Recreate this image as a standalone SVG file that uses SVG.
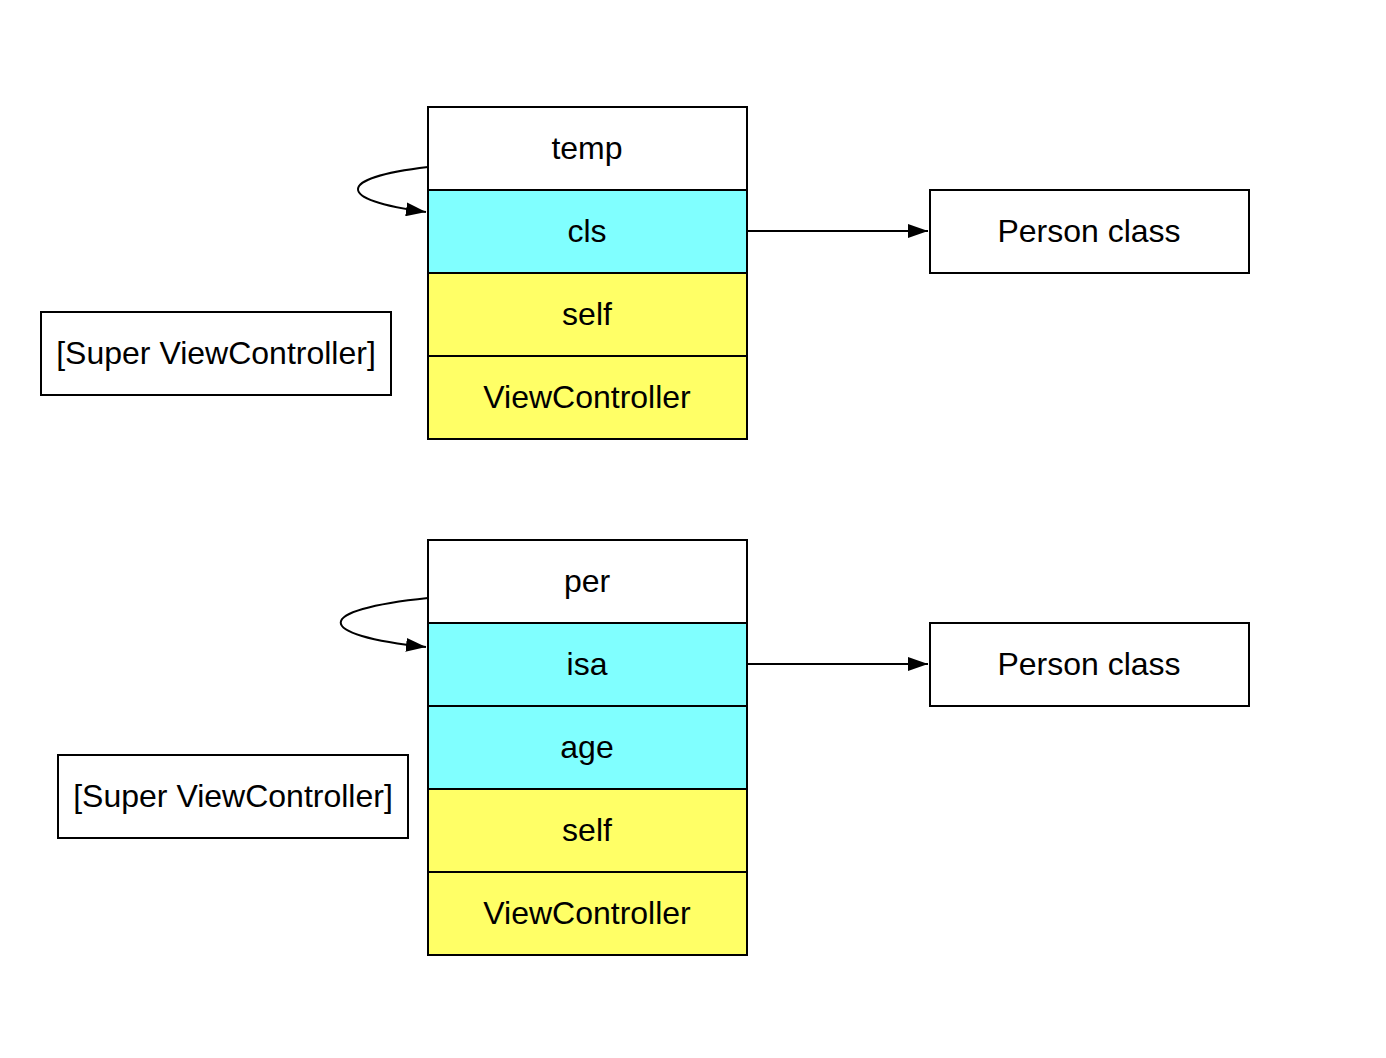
<svg xmlns="http://www.w3.org/2000/svg" width="1386" height="1058" viewBox="0 0 1386 1058">
<style>
.b{stroke:#000;stroke-width:2;}
.w{fill:#fff;}
.c{fill:#80ffff;}
.y{fill:#ffff66;}
text{font-family:"Liberation Sans",Arial,sans-serif;font-size:32px;fill:#000;text-anchor:middle;dominant-baseline:central;}
.e{fill:none;stroke:#000;stroke-width:2;}
</style>
<defs>
<marker id="ah2" markerWidth="20" markerHeight="14" refX="20" refY="7" orient="auto" markerUnits="userSpaceOnUse" viewBox="0 0 20 14">
<path d="M0,0 L20,7 L0,14 Z" fill="#000"/>
</marker>
</defs>
<rect width="1386" height="1058" fill="#fff"/>
<g id="stack1">
<rect class="b w" x="428" y="107" width="319" height="83"/><text x="587" y="148">temp</text>
<rect class="b c" x="428" y="190" width="319" height="83"/><text x="587" y="231">cls</text>
<rect class="b y" x="428" y="273" width="319" height="83"/><text x="587" y="314">self</text>
<rect class="b y" x="428" y="356" width="319" height="83"/><text x="587" y="397">ViewController</text>
</g>
<g id="person1"><rect class="b w" x="930" y="190" width="319" height="83"/><text x="1089" y="231">Person class</text></g>
<g id="super1"><rect class="b w" x="41" y="312" width="350" height="83"/><text x="216" y="353">[Super ViewController]</text></g>
<g id="stack2">
<rect class="b w" x="428" y="540" width="319" height="83"/><text x="587" y="581">per</text>
<rect class="b c" x="428" y="623" width="319" height="83"/><text x="587" y="664">isa</text>
<rect class="b c" x="428" y="706" width="319" height="83"/><text x="587" y="747">age</text>
<rect class="b y" x="428" y="789" width="319" height="83"/><text x="587" y="830">self</text>
<rect class="b y" x="428" y="872" width="319" height="83"/><text x="587" y="913">ViewController</text>
</g>
<g id="person2"><rect class="b w" x="930" y="623" width="319" height="83"/><text x="1089" y="664">Person class</text></g>
<g id="super2"><rect class="b w" x="58" y="755" width="350" height="83"/><text x="233" y="796">[Super ViewController]</text></g>
<g id="connectors">
<path class="e" d="M747,231 L928,231" marker-end="url(#ah2)"/>
<path class="e" d="M747,664 L928,664" marker-end="url(#ah2)"/>
<path class="e" d="M428,167 C335,178 335,200 426,212" marker-end="url(#ah2)"/>
<path class="e" d="M428,598 C312,610 312,635 426,647" marker-end="url(#ah2)"/>
</g>
</svg>
